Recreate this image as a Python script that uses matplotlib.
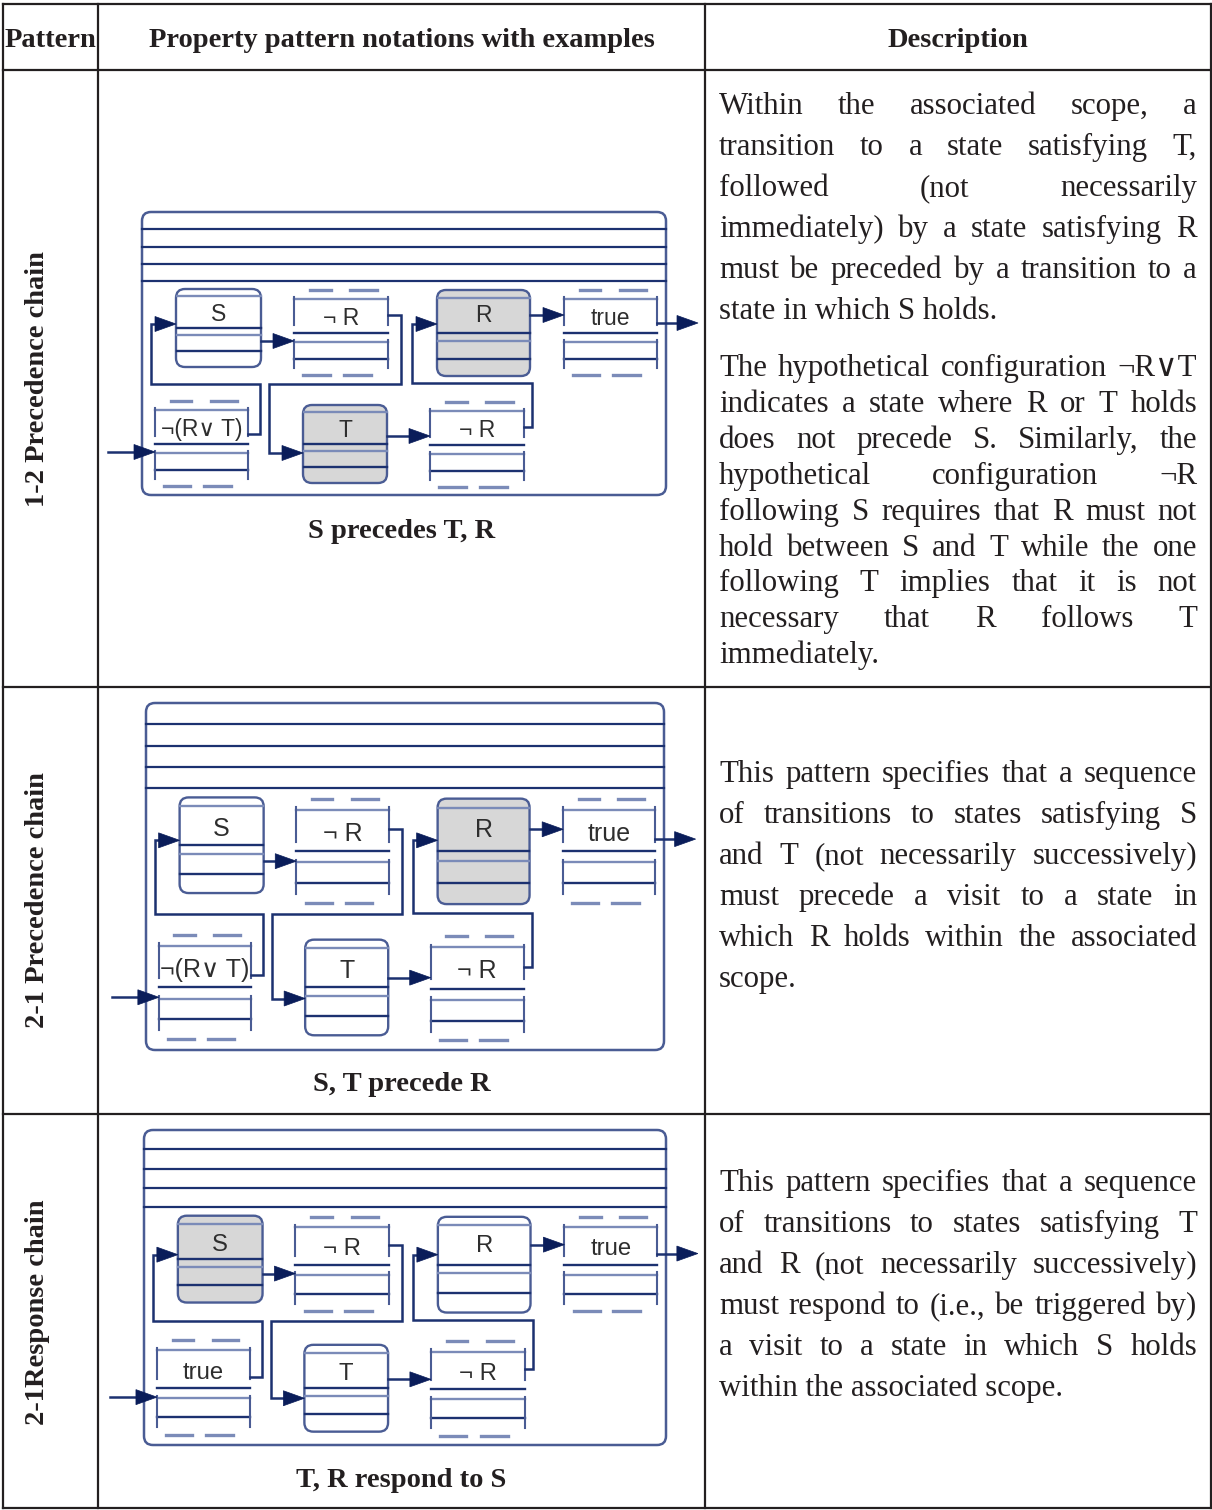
import matplotlib
matplotlib.use('Agg')
import matplotlib.pyplot as plt
from matplotlib.patches import FancyBboxPatch, Polygon

# ---------------- data ----------------
headers = ["Pattern", "Property pattern notations with examples", "Description"]
patterns = ["1-2 Precedence chain", "2-1 Precedence chain", "2-1Response chain"]
captions = ["S precedes T, R", "S, T precede R", "T, R respond to S"]
entry_labels = ["\u00ac(R\u2228 T)", "\u00ac(R\u2228 T)", "true"]
shaded_states = [["R", "T"], ["R"], ["S"]]

desc_row1_p1 = [
    "Within the associated scope, a",
    "transition to a state satisfying T,",
    "followed (not necessarily",
    "immediately) by a state satisfying R",
    "must be preceded by a transition to a",
    "state in which S holds.",
]
desc_row1_p2 = [
    "The hypothetical configuration \u00acR\u2228T",
    "indicates a state where R or T holds",
    "does not precede S. Similarly, the",
    "hypothetical configuration \u00acR",
    "following S requires that R must not",
    "hold between S and T while the one",
    "following T implies that it is not",
    "necessary that R follows T",
    "immediately.",
]
desc_row2 = [
    "This pattern specifies that a sequence",
    "of transitions to states satisfying S",
    "and T (not necessarily successively)",
    "must precede a visit to a state in",
    "which R holds within the associated",
    "scope.",
]
desc_row3 = [
    "This pattern specifies that a sequence",
    "of transitions to states satisfying T",
    "and R (not necessarily successively)",
    "must respond to (i.e., be triggered by)",
    "a visit to a state in which S holds",
    "within the associated scope.",
]

# ---------------- layout / style ----------------
W, H = 1212, 1510
fig = plt.figure(figsize=(W / 100, H / 100), dpi=100)
ax = fig.add_axes([0, 0, 1, 1])
ax.set_xlim(0, W)
ax.set_ylim(H, 0)
ax.axis('off')

SERIF = ['Liberation Serif', 'DejaVu Serif']
SANS = ['Liberation Sans', 'DejaVu Sans']
INK = '#231f20'
DARK = '#1c3170'
LIGHT = '#7b8bb8'
ARROW = '#0a1d5a'
OUTER = '#4a5c94'
FILL = '#d7d7d7'
LABEL = '#2e2e2e'

col_x = [3, 98, 705, 1211]
row_y = [4, 70, 687, 1114, 1508]

for x in col_x:
    ax.plot([x, x], [row_y[0], row_y[-1]], color=INK, lw=1.6, solid_capstyle='projecting')
for y in row_y:
    ax.plot([col_x[0], col_x[-1]], [y, y], color=INK, lw=1.6, solid_capstyle='projecting')

HFS = 20.5
for i, h in enumerate(headers):
    cx = (col_x[i] + col_x[i + 1]) / 2
    ax.text(cx, 47, h, ha='center', va='baseline', fontsize=HFS, fontweight='bold',
            family=SERIF, color=INK)

pat_centers = [379, 900, 1312]
for p, cy in zip(patterns, pat_centers):
    ax.text(38, cy, p, rotation=90, ha='center', va='center', fontsize=HFS,
            fontweight='bold', family=SERIF, color=INK)

# ---------------- justified descriptions ----------------
renderer = fig.canvas.get_renderer()
DFS = 22.2
XL, XR = 719, 1197


def tw(s):
    t = ax.text(0, 0, s, fontsize=DFS, family=SERIF)
    w = t.get_window_extent(renderer).width
    t.remove()
    return w


def paragraph(lines, y0, step):
    for k, line in enumerate(lines):
        y = y0 + k * step
        if k == len(lines) - 1:
            ax.text(XL, y, line, ha='left', va='baseline', fontsize=DFS, family=SERIF, color=INK)
            continue
        words = line.split(' ')
        ws = [tw(w) for w in words]
        gap = (XR - XL - sum(ws)) / (len(words) - 1)
        x = XL
        for w, wd in zip(words, ws):
            ax.text(x, y, w, ha='left', va='baseline', fontsize=DFS, family=SERIF, color=INK)
            x += wd + gap


paragraph(desc_row1_p1, 114, 41)
paragraph(desc_row1_p2, 376, 35.9)
paragraph(desc_row2, 782, 41)
paragraph(desc_row3, 1191, 41)

# ---------------- diagrams ----------------
BX0, BY0, BX1, BY1 = 142, 212, 666, 495
band_lines = [229, 247, 264, 281]
solid_nodes = {  # name: x0, x1, top, bottom
    'S': (176, 261, 289, 367),
    'R': (437, 530, 290, 376),
    'T': (303, 387, 405, 483),
}
dashed_nodes = [  # x0, x1, top dash y, label
    (294, 388, 290, '\u00ac R'),
    (564, 657, 290, 'true'),
    (155, 248, 401, None),
    (430, 524, 402, '\u00ac R'),
]
connectors = [
    [(108, 452), (155, 452)],
    [(248, 434), (260, 434), (260, 384), (151, 384), (151, 324), (176, 324)],
    [(261, 341), (294, 341)],
    [(388, 315), (401, 315), (401, 384), (269, 384), (269, 453), (303, 453)],
    [(387, 436), (430, 436)],
    [(524, 427), (532, 427), (532, 383), (412, 383), (412, 324), (437, 324)],
    [(530, 315), (564, 315)],
    [(657, 323), (698, 323)],
]
diagram_rects = [(142, 212, 666, 495), (146, 703, 664, 1050), (144, 1130, 666, 1445)]
label_fs = [16.5, 18.0, 17.2]
caption_y = [538, 1091, 1487]


def draw_diagram(rect, shaded, entry_label, lfs):
    x0, y0, x1, y1 = rect
    sx = (x1 - x0) / (BX1 - BX0)
    sy = (y1 - y0) / (BY1 - BY0)
    X = lambda x: x0 + (x - BX0) * sx
    Y = lambda y: y0 + (y - BY0) * sy
    cap = lfs / 72 * 100 * 0.716

    ax.add_patch(FancyBboxPatch((x0, y0), x1 - x0, y1 - y0,
                                boxstyle='round,pad=0,rounding_size=9',
                                fc='none', ec=OUTER, lw=1.8, zorder=2))
    for yy in band_lines:
        ax.plot([x0, x1], [Y(yy), Y(yy)], color=DARK, lw=1.6, zorder=3)

    # solid state boxes
    for name, (a, b, t, bt) in solid_nodes.items():
        hh = bt - t
        fc = FILL if name in shaded else 'white'
        ax.add_patch(FancyBboxPatch((X(a), Y(t)), X(b) - X(a), Y(bt) - Y(t),
                                    boxstyle='round,pad=0,rounding_size=9',
                                    fc=fc, ec=OUTER, lw=1.7, zorder=3))
        for frac, col in [(0.09, LIGHT), (0.5, DARK), (0.59, LIGHT), (0.8, DARK)]:
            yy = Y(t + frac * hh)
            ax.plot([X(a) + 0.5, X(b) - 0.5], [yy, yy], color=col, lw=1.7, zorder=4)
        ax.text((X(a) + X(b)) / 2, Y(t + 24) + cap / 2, name, ha='center', va='baseline',
                fontsize=lfs, family=SANS, color=LABEL, zorder=5)

    # dashed (hypothetical) boxes
    for a, b, t, lab in dashed_nodes:
        if lab is None:
            lab = entry_label
        w = b - a
        for f0, f1 in [(0.17, 0.39), (0.6, 0.88)]:
            ax.plot([X(a + f0 * w), X(a + f1 * w)], [Y(t), Y(t)], color=LIGHT, lw=2.4, zorder=3)
        for f0, f1 in [(0.1, 0.38), (0.53, 0.82)]:
            ax.plot([X(a + f0 * w), X(a + f1 * w)], [Y(t + 85), Y(t + 85)], color=LIGHT, lw=2.4, zorder=3)
        for off, col in [(9, LIGHT), (43, DARK), (52, LIGHT), (69, DARK)]:
            ax.plot([X(a), X(b)], [Y(t + off), Y(t + off)], color=col, lw=1.7, zorder=3)
        for xx in (a, b):
            ax.plot([X(xx), X(xx)], [Y(t + 7), Y(t + 35)], color=OUTER, lw=1.5, zorder=3)
            ax.plot([X(xx), X(xx)], [Y(t + 50), Y(t + 78)], color=OUTER, lw=1.5, zorder=3)
        ax.text((X(a) + X(b)) / 2, Y(t + 27) + cap / 2, lab, ha='center', va='baseline',
                fontsize=lfs, family=SANS, color=LABEL, zorder=5)

    # connectors with arrowheads
    L, HW = 21, 7.5
    for pts in connectors:
        P = [(X(px), Y(py)) for px, py in pts]
        tipx, tipy = P[-1]
        P2 = P[:-1] + [(tipx - L + 2, tipy)]
        ax.plot([p[0] for p in P2], [p[1] for p in P2], color=DARK, lw=1.8, zorder=4,
                solid_joinstyle='miter')
        ax.add_patch(Polygon([(tipx, tipy), (tipx - L, tipy - HW), (tipx - L, tipy + HW)],
                             closed=True, fc=ARROW, ec=ARROW, lw=0.5, zorder=6))


for i in range(3):
    draw_diagram(diagram_rects[i], shaded_states[i], entry_labels[i], label_fs[i])
    ax.text(401.5, caption_y[i], captions[i], ha='center', va='baseline', fontsize=HFS,
            fontweight='bold', family=SERIF, color=INK)

fig.savefig('out.png', dpi=100)
